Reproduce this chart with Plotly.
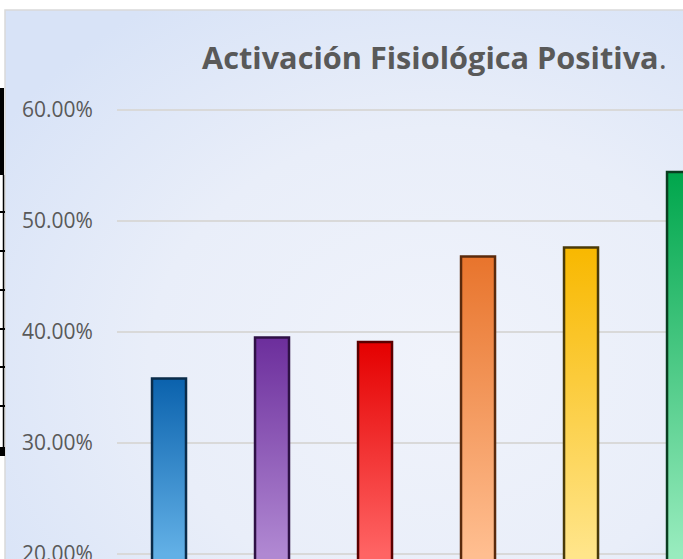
import base64
import plotly.graph_objects as go

# data
categories = ["1", "2", "3", "4", "5", "6"]
values = [0.358, 0.395, 0.391, 0.468, 0.476, 0.544]
tick_vals = [0.2, 0.3, 0.4, 0.5, 0.6]
title_text = "<b>Activación Fisiológica Positiva</b>."

# bar colours: (bottom, top, edge)
bar_colors = [
    ("#62b0e6", "#0b62ad", "#0a2c4a"),
    ("#b088d2", "#6c2e9c", "#2e1145"),
    ("#ff6464", "#e40000", "#5a0000"),
    ("#ffbe90", "#e8742c", "#5a2a0c"),
    ("#ffe58a", "#f8b800", "#4a3a08"),
    ("#98ecbe", "#00a64c", "#0a3d20"),
]

W, H = 683, 559
ML, MT = 117, 60
PW, PH = W - ML, H - MT


def px(x):
    return (x - ML) / PW


def py(y):
    return (H - y) / PH


# soft blue chart-area background as an svg gradient
svg = (
    '<svg xmlns="http://www.w3.org/2000/svg" width="700" height="560">'
    '<defs><radialGradient id="g" cx="0.62" cy="0.62" r="0.75">'
    '<stop offset="0" stop-color="#f0f3fb"/>'
    '<stop offset="0.55" stop-color="#e9eef9"/>'
    '<stop offset="1" stop-color="#d8e3f7"/>'
    '</radialGradient></defs>'
    '<rect width="700" height="560" fill="url(#g)"/></svg>'
)
bg_src = "data:image/svg+xml;base64," + base64.b64encode(svg.encode()).decode()

fig = go.Figure()

half = 0.165
for i, (cat, v) in enumerate(zip(categories, values)):
    bottom, top, edge = bar_colors[i]
    fig.add_trace(go.Scatter(
        x=[i - half, i - half, i + half, i + half, i - half],
        y=[0, v, v, 0, 0],
        mode="lines",
        fill="toself",
        fillgradient=dict(type="vertical", colorscale=[[0, bottom], [1, top]],
                          start=0.2, stop=v),
        line=dict(color=edge, width=2.5),
        name=cat,
        hoverinfo="skip",
        showlegend=False,
    ))

shapes = [
    # chart border
    dict(type="rect", xref="paper", yref="paper", x0=px(5), x1=px(700), y0=py(580), y1=py(10),
         line=dict(color="#d9d9d9", width=1.5), fillcolor="rgba(0,0,0,0)", layer="above"),
    # bits of the spreadsheet grid peeking out on the left
    dict(type="rect", xref="paper", yref="paper", x0=px(0), x1=px(4), y0=py(175), y1=py(88),
         line=dict(width=0), fillcolor="black"),
    dict(type="line", xref="paper", yref="paper", x0=px(3.5), x1=px(3.5), y0=py(455), y1=py(175),
         line=dict(color="black", width=1.5)),
    dict(type="rect", xref="paper", yref="paper", x0=px(0), x1=px(5), y0=py(456), y1=py(447),
         line=dict(width=0), fillcolor="black"),
]
for yy in [212, 251, 290, 329, 367, 406]:
    shapes.append(dict(type="line", xref="paper", yref="paper", x0=px(0), x1=px(5),
                       y0=py(yy), y1=py(yy), line=dict(color="black", width=2)))

fig.update_layout(
    width=W,
    height=H,
    margin=dict(l=ML, r=0, t=MT, b=0, pad=0),
    paper_bgcolor="white",
    plot_bgcolor="rgba(0,0,0,0)",
    font=dict(family="Open Sans", color="#595959"),
    showlegend=False,
    images=[dict(source=bg_src, xref="paper", yref="paper", x=px(5), y=py(10),
                 sizex=px(700) - px(5), sizey=py(10) - py(580),
                 sizing="stretch", layer="below", xanchor="left", yanchor="top")],
    shapes=shapes,
    annotations=[dict(text=title_text, xref="paper", yref="paper", x=px(434), y=py(57),
                      xanchor="center", yanchor="middle", showarrow=False,
                      font=dict(family="Open Sans", size=30.7, color="#595959"))],
    xaxis=dict(range=[-0.505, 4.99], showgrid=False, zeroline=False, showticklabels=False,
               ticks="", fixedrange=True, automargin=False),
    yaxis=dict(range=[0.1955, 0.645], tickvals=tick_vals, tickformat=".2%",
               showgrid=True, gridcolor="#d9d9d9", gridwidth=1.5, zeroline=False,
               ticks="outside", ticklen=19, tickcolor="rgba(0,0,0,0)",
               tickfont=dict(family="Open Sans", size=21, color="#595959"),
               ticklabeloverflow="allow",
               showline=False, automargin=False),
)

# the page has an 8px body margin by default; drop it so the figure sits at 0,0
fig.write_html("out.html", config={"displayModeBar": False},
               post_script="document.body.style.margin='0';")
